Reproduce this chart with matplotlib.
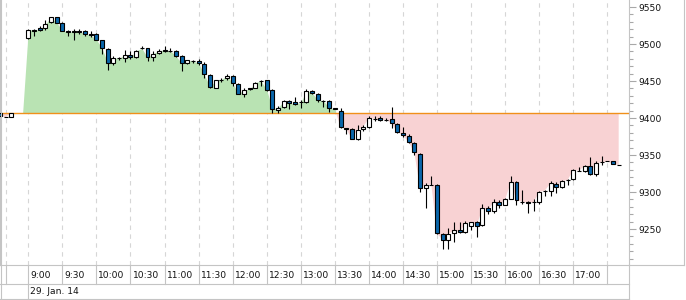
import matplotlib
matplotlib.use('Agg')
import matplotlib.pyplot as plt
import numpy as np
import pandas as pd
from matplotlib import transforms
from matplotlib.lines import Line2D
from matplotlib.ticker import MultipleLocator

# 5 minute candles, 29. Jan. 14
pre_times = ['08:35', '08:40', '08:45']
session_times = [t.strftime('%H:%M') for t in pd.date_range('2014-01-29 09:00', '2014-01-29 17:40', freq='5min')]
times = pre_times + session_times

opens = [9407, 9401, 9401,
         9508, 9518, 9521, 9521, 9530, 9536, 9528, 9518, 9516, 9516, 9517, 9514,
         9513, 9505, 9493, 9474, 9481, 9481, 9485, 9482, 9494, 9494, 9483, 9488,
         9491, 9491, 9491, 9484, 9474, 9477, 9477, 9473, 9458, 9441, 9452, 9454,
         9457, 9446, 9432, 9440, 9441, 9450, 9451, 9438, 9411, 9415, 9423, 9421,
         9421, 9421, 9437, 9432, 9423, 9423, 9413, 9410, 9386, 9385, 9371, 9385,
         9388, 9399, 9400, 9398, 9399, 9392, 9380, 9376, 9366, 9352, 9305, 9310,
         9310, 9243, 9235, 9244, 9249, 9246, 9254, 9259, 9255, 9278, 9275, 9287,
         9283, 9291, 9313, 9287, 9287, 9286, 9287, 9301, 9302, 9311, 9307, 9316,
         9317, 9329, 9328, 9335, 9325, 9340, 9341.5, 9342, 9336.5]
highs = [9407, 9401, 9407,
         9520, 9520, 9524, 9532, 9537, 9537, 9530, 9519, 9520, 9520, 9519, 9517,
         9515, 9506, 9494, 9484, 9483, 9492, 9490, 9492, 9498, 9495, 9490, 9493,
         9498, 9495, 9492, 9485, 9479, 9479, 9480, 9476, 9459, 9452, 9454, 9460,
         9458, 9447, 9441, 9441, 9449, 9451, 9452, 9439, 9416, 9424, 9424, 9429,
         9424, 9439, 9438, 9434, 9424, 9424, 9413, 9413, 9387, 9386, 9390, 9390,
         9403, 9403, 9403, 9400, 9415, 9393, 9388, 9378, 9367, 9353, 9312, 9321,
         9311, 9244, 9252, 9260, 9260, 9261, 9260, 9261, 9284, 9281, 9291, 9289,
         9292, 9321, 9315, 9303, 9288, 9290, 9302, 9303, 9315, 9313, 9316, 9318,
         9331, 9334, 9337, 9347, 9342, 9349, 9341.5, 9342, 9336.5]
lows = [9403, 9401, 9401,
        9507, 9511, 9518, 9519, 9528, 9528, 9517, 9511, 9505, 9513, 9511, 9509,
        9505, 9487, 9465, 9472, 9478, 9476, 9480, 9481, 9493, 9477, 9477, 9486,
        9489, 9489, 9483, 9464, 9473, 9475, 9471, 9454, 9441, 9440, 9449, 9452,
        9443, 9432, 9429, 9438, 9440, 9443, 9436, 9407, 9407, 9414, 9412, 9418,
        9413, 9420, 9433, 9421, 9415, 9408, 9412, 9387, 9379, 9372, 9370, 9382,
        9386, 9396, 9396, 9396, 9386, 9380, 9375, 9366, 9350, 9300, 9279, 9309,
        9243, 9223, 9223, 9232, 9244, 9245, 9249, 9239, 9254, 9270, 9272, 9279,
        9282, 9290, 9282, 9284, 9272, 9275, 9284, 9294, 9294, 9299, 9305, 9310,
        9316, 9328, 9327, 9323, 9322, 9336, 9341.5, 9338, 9336.5]
closes = [9403, 9401, 9407,
          9519, 9519, 9519, 9527, 9536, 9529, 9518, 9516, 9517, 9517, 9514, 9512,
          9506, 9494, 9474, 9481, 9481, 9485, 9482, 9491, 9494, 9482, 9487, 9491,
          9492, 9491, 9484, 9474, 9478, 9477, 9474, 9459, 9442, 9451, 9452, 9457,
          9447, 9433, 9438, 9439, 9448, 9450, 9438, 9412, 9414, 9423, 9420, 9419,
          9421, 9437, 9434, 9424, 9423, 9414, 9412, 9388, 9385, 9372, 9384, 9388,
          9400, 9399, 9397, 9398, 9393, 9381, 9377, 9367, 9354, 9305, 9310, 9310,
          9244, 9235, 9243, 9249, 9246, 9258, 9259, 9254, 9279, 9275, 9287, 9283,
          9290, 9313, 9289, 9287, 9285, 9286, 9300, 9302, 9312, 9307, 9315, 9316,
          9330, 9329, 9335, 9325, 9339, 9340, 9341.5, 9338, 9336.5]

baseline = 9406.5
grid_times = ['08:40', '09:00', '09:30', '10:00', '10:30', '11:00', '11:30', '12:00', '12:30',
              '13:00', '13:30', '14:00', '14:30', '15:00', '15:30', '16:00', '16:30', '17:00', '17:30']
grid_labels = ['', '9:00', '9:30', '10:00', '10:30', '11:00', '11:30', '12:00', '12:30',
               '13:00', '13:30', '14:00', '14:30', '15:00', '15:30', '16:00', '16:30', '17:00', '']
date_label = '29. Jan. 14'

GREEN = '#b9e3b3'
PINK = '#f8d2d3'
BLUE = '#0a66aa'
ORANGE = '#f0901a'
GRID = '#d6d6d6'
FRAME = '#c4c4c4'


def to_min(s):
    h, m = s.split(':')
    return int(h) * 60 + int(m)


x = np.array([to_min(t) for t in times], dtype=float)
o = np.array(opens, dtype=float)
h = np.array(highs, dtype=float)
l = np.array(lows, dtype=float)
c = np.array(closes, dtype=float)

# close line on the full 5 min grid (no trade -> last close)
full_x = np.arange(x[0], x[-1] + 1, 5.0)
fill_close = pd.Series(c, index=x).reindex(full_x).ffill().values

fig = plt.figure(figsize=(6.86, 3.0), dpi=100)
ax = fig.add_axes([0, 35 / 300, 629 / 686, 265 / 300])

px_per_min = 34.06 / 30
xmin = 540 - 28.3 / px_per_min
ax.set_xlim(xmin, xmin + 629 / px_per_min)
ax.set_ylim(9201.4, 9559.5)

for t in grid_times:
    ax.axvline(to_min(t), color=GRID, lw=0.8, ls=(0, (4, 4)), zorder=0)

ax.fill_between(full_x, fill_close, baseline, where=fill_close >= baseline,
                interpolate=True, color=GREEN, lw=0, zorder=1)
ax.fill_between(full_x, fill_close, baseline, where=fill_close <= baseline,
                interpolate=True, color=PINK, lw=0, zorder=1)
ax.axhline(baseline, color=ORANGE, lw=1.0, zorder=2)

# candles
ax.vlines(x, l, h, color='black', lw=0.8, zorder=3)
up = c >= o
ax.bar(x[up], c[up] - o[up], bottom=o[up], width=3.5, color='white',
       edgecolor='black', linewidth=0.8, zorder=4)
ax.bar(x[~up], o[~up] - c[~up], bottom=c[~up], width=3.5, color=BLUE,
       edgecolor='black', linewidth=0.8, zorder=4)

# axes styling
ax.spines['top'].set_visible(False)
for side in ['left', 'right', 'bottom']:
    ax.spines[side].set_color(FRAME)
    ax.spines[side].set_linewidth(0.8)
ax.set_xticks([])
ax.yaxis.tick_right()
ax.set_yticks(range(9250, 9551, 50))
ax.yaxis.set_minor_locator(MultipleLocator(10))
ax.tick_params(axis='y', which='major', direction='out', length=5, width=0.8,
               color='#a8a8a8', labelsize=6.6, pad=2, labelcolor='#111111')
ax.tick_params(axis='y', which='minor', direction='out', length=2.7, width=0.8,
               color='#a8a8a8')

# time rows under the chart
bt = transforms.blended_transform_factory(ax.transData, fig.transFigure)
y_axis = 35 / 300
y_row = 16 / 300
y_bot = 1.5 / 300
x_right = 629 / 686
for t, lab in zip(grid_times, grid_labels):
    fig.add_artist(Line2D([to_min(t)] * 2, [y_row, y_axis], transform=bt, color=FRAME, lw=0.8))
    if lab:
        fig.text(to_min(t), 24 / 300, lab, transform=transforms.offset_copy(bt, fig=fig, x=2, units='dots'),
                 fontsize=6.6, va='center', ha='left', color='#111111')
fig.add_artist(Line2D([to_min('09:00')] * 2, [y_bot, y_row], transform=bt, color=FRAME, lw=0.8))
fig.text(to_min('09:00'), 8 / 300, date_label, transform=transforms.offset_copy(bt, fig=fig, x=2, units='dots'),
         fontsize=6.6, va='center', ha='left', color='#111111')

# frame lines
fig.add_artist(Line2D([0, x_right], [y_row, y_row], color=FRAME, lw=0.8))
fig.add_artist(Line2D([0, x_right], [y_bot, y_bot], color=FRAME, lw=0.8))
fig.add_artist(Line2D([x_right, x_right], [y_bot, y_axis], color=FRAME, lw=0.8))
fig.add_artist(Line2D([x_right, 684 / 686], [y_axis, y_axis], color=FRAME, lw=0.8))
fig.add_artist(Line2D([684 / 686, 684 / 686], [y_axis, 1], color=FRAME, lw=0.8))
fig.add_artist(Line2D([0.5 / 686, 0.5 / 686], [y_bot, 1], color=FRAME, lw=0.8))

fig.savefig('out.png', dpi=100)
